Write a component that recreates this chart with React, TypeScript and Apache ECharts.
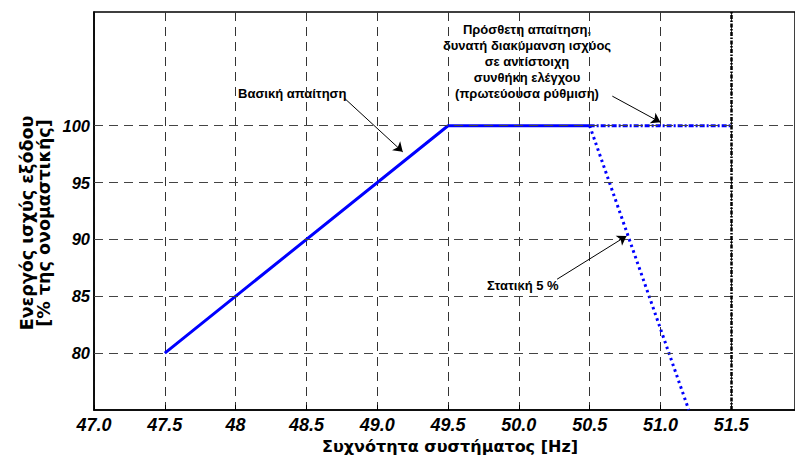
import React, { useEffect, useRef } from "react";
import * as echarts from "echarts";

// ---- data ----
const xTickValues = [47, 47.5, 48, 48.5, 49, 49.5, 50, 50.5, 51, 51.5];
const xTickLabels = ["47.0", "47.5", "48", "48.5", "49.0", "49.5", "50.0", "50.5", "51.0", "51.5"];
const yTickValues = [80, 85, 90, 95, 100];
const yTickLabels = ["80", "85", "90", "95", "100"];

const basicFreq = [47.5, 49.5, 50.5];
const basicPower = [80, 100, 100];
const additionalFreq = [50.5, 51.5];
const additionalPower = [100, 100];
const droopFreq = [50.5, 51.2];
const droopPower = [100, 75];
const limitFreq = 51.5;

// annotation arrows in data coordinates: [fromX, fromY, toX, toY]
const arrowBasic = [48.77, 102.4, 49.18, 97.7];
const arrowAdditional = [50.66, 102.6, 51.0, 100.3];
const arrowDroop = [50.27, 86.5, 50.76, 90.3];

const textBasic = "Βασική απαίτηση";
const textAdditional = [
  "Πρόσθετη απαίτηση,",
  "δυνατή διακύμανση ισχύος",
  "σε αντίστοιχη",
  "συνθήκη ελέγχου",
  "(πρωτεύουσα ρύθμιση)",
];
const textDroop = "Στατική 5 %";
const xName = "Συχνότητα συστήματος [Hz]";
const yName = ["Ενεργός ισχύς εξόδου", "[% της ονομαστικής]"];

const FONT = "'Liberation Sans', Arial, sans-serif";
const TITLE_FONT = "'DejaVu Sans', 'Liberation Sans', sans-serif";

const zip = (a: number[], b: number[]) => a.map((v, i) => [v, b[i]]);
const arrow = (a: number[]) => [{ coord: [a[0], a[1]] }, { coord: [a[2], a[3]] }];

export default function App() {
  const ref = useRef<HTMLDivElement>(null);
  useEffect(() => {
    if (!ref.current) return;
    const chart = echarts.init(ref.current, undefined, { renderer: "svg" });
    const blue = "#0000ff";
    chart.setOption({
      animation: false,
      grid: {
        left: 94,
        top: 12,
        right: -2,
        bottom: 45,
        show: true,
        borderColor: "#000",
        borderWidth: 1.5,
        backgroundColor: "transparent",
      },
      xAxis: {
        type: "value",
        min: 47,
        max: 51.95,
        interval: 0.5,
        axisLine: { show: true, onZero: false, lineStyle: { color: "#000", width: 1.5 } },
        axisTick: { show: true, inside: true, length: 5, lineStyle: { color: "#000" } },
        axisLabel: {
          margin: 6,
          showMaxLabel: false,
          color: "#000",
          fontFamily: FONT,
          fontSize: 18,
          fontWeight: "bold",
          fontStyle: "italic",
          formatter: (v: number) => {
            const i = xTickValues.findIndex((t) => Math.abs(t - v) < 1e-6);
            return i >= 0 ? xTickLabels[i] : "";
          },
        },
        splitLine: { show: true, lineStyle: { color: "#333", width: 1, type: [9, 6] } },
      },
      yAxis: {
        type: "value",
        min: 75,
        max: 110,
        interval: 5,
        axisLine: { show: true, onZero: false, lineStyle: { color: "#000", width: 1.5 } },
        axisTick: { show: false },
        splitLine: { show: false },
        axisLabel: {
          margin: 4,
          color: "#000",
          fontFamily: FONT,
          fontSize: 16.5,
          fontWeight: "bold",
          fontStyle: "italic",
          formatter: (v: number) => {
            const i = yTickValues.findIndex((t) => Math.abs(t - v) < 1e-6);
            return i >= 0 ? yTickLabels[i] : "";
          },
        },
      },
      series: [
        {
          type: "line",
          data: [],
          z: 1,
          silent: true,
          markLine: {
            silent: true,
            symbol: ["none", "none"],
            label: { show: false },
            lineStyle: { color: "#444", width: 1, type: [9, 6] },
            data: yTickValues.map((v) => ({ yAxis: v })),
          },
        },
        {
          type: "line",
          data: [],
          z: 2,
          silent: true,
          markLine: {
            silent: true,
            symbol: ["none", "none"],
            label: { show: false },
            lineStyle: { color: "#000", width: 2.5, type: [4, 1.5, 1.5, 1.5] },
            data: [{ xAxis: limitFreq }],
          },
        },
        {
          type: "line",
          z: 3,
          silent: true,
          symbol: "none",
          data: zip(basicFreq, basicPower),
          lineStyle: { color: blue, width: 3 },
        },
        {
          type: "line",
          z: 3,
          silent: true,
          symbol: "none",
          data: zip(additionalFreq, additionalPower),
          lineStyle: { color: blue, width: 3, type: [5, 2, 2, 2] },
        },
        {
          type: "line",
          z: 3,
          silent: true,
          symbol: "none",
          data: zip(droopFreq, droopPower),
          lineStyle: { color: blue, width: 3, type: [2.5, 3.5] },
        },
        {
          type: "line",
          data: [],
          z: 5,
          silent: true,
          markLine: {
            silent: true,
            symbol: ["none", "arrow"],
            symbolSize: 9,
            label: { show: false },
            lineStyle: { color: "#000", width: 1, type: "solid" },
            data: [arrow(arrowBasic), arrow(arrowAdditional), arrow(arrowDroop)],
          },
        },
      ],
      graphic: [
        {
          type: "text",
          x: 238,
          y: 93,
          style: {
            text: textBasic,
            fill: "#000",
            font: `bold 13px ${FONT}`,
            textAlign: "left",
            textVerticalAlign: "middle",
          },
        },
        {
          type: "text",
          x: 527,
          y: 21,
          style: {
            text: textAdditional.join("\n"),
            fill: "#000",
            font: `bold 13px ${FONT}`,
            lineHeight: 16,
            textAlign: "center",
            textVerticalAlign: "top",
          },
        },
        {
          type: "text",
          x: 487,
          y: 285,
          style: {
            text: textDroop,
            fill: "#000",
            font: `bold 13px ${FONT}`,
            textAlign: "left",
            textVerticalAlign: "middle",
          },
        },
        {
          type: "text",
          x: 450,
          y: 446,
          style: {
            text: xName,
            fill: "#000",
            font: `bold 16px ${TITLE_FONT}`,
            textAlign: "center",
            textVerticalAlign: "middle",
          },
        },
        {
          type: "text",
          x: 35,
          y: 223,
          rotation: Math.PI / 2,
          style: {
            text: yName.join("\n"),
            fill: "#000",
            font: `bold 17.5px ${TITLE_FONT}`,
            lineHeight: 17,
            textAlign: "center",
            textVerticalAlign: "middle",
          },
        },
      ],
    });
    return () => chart.dispose();
  }, []);
  return (
    <div
      ref={ref}
      style={{ position: "absolute", left: 0, top: 0, width: 795, height: 455, background: "#fff", overflow: "hidden" }}
    />
  );
}
